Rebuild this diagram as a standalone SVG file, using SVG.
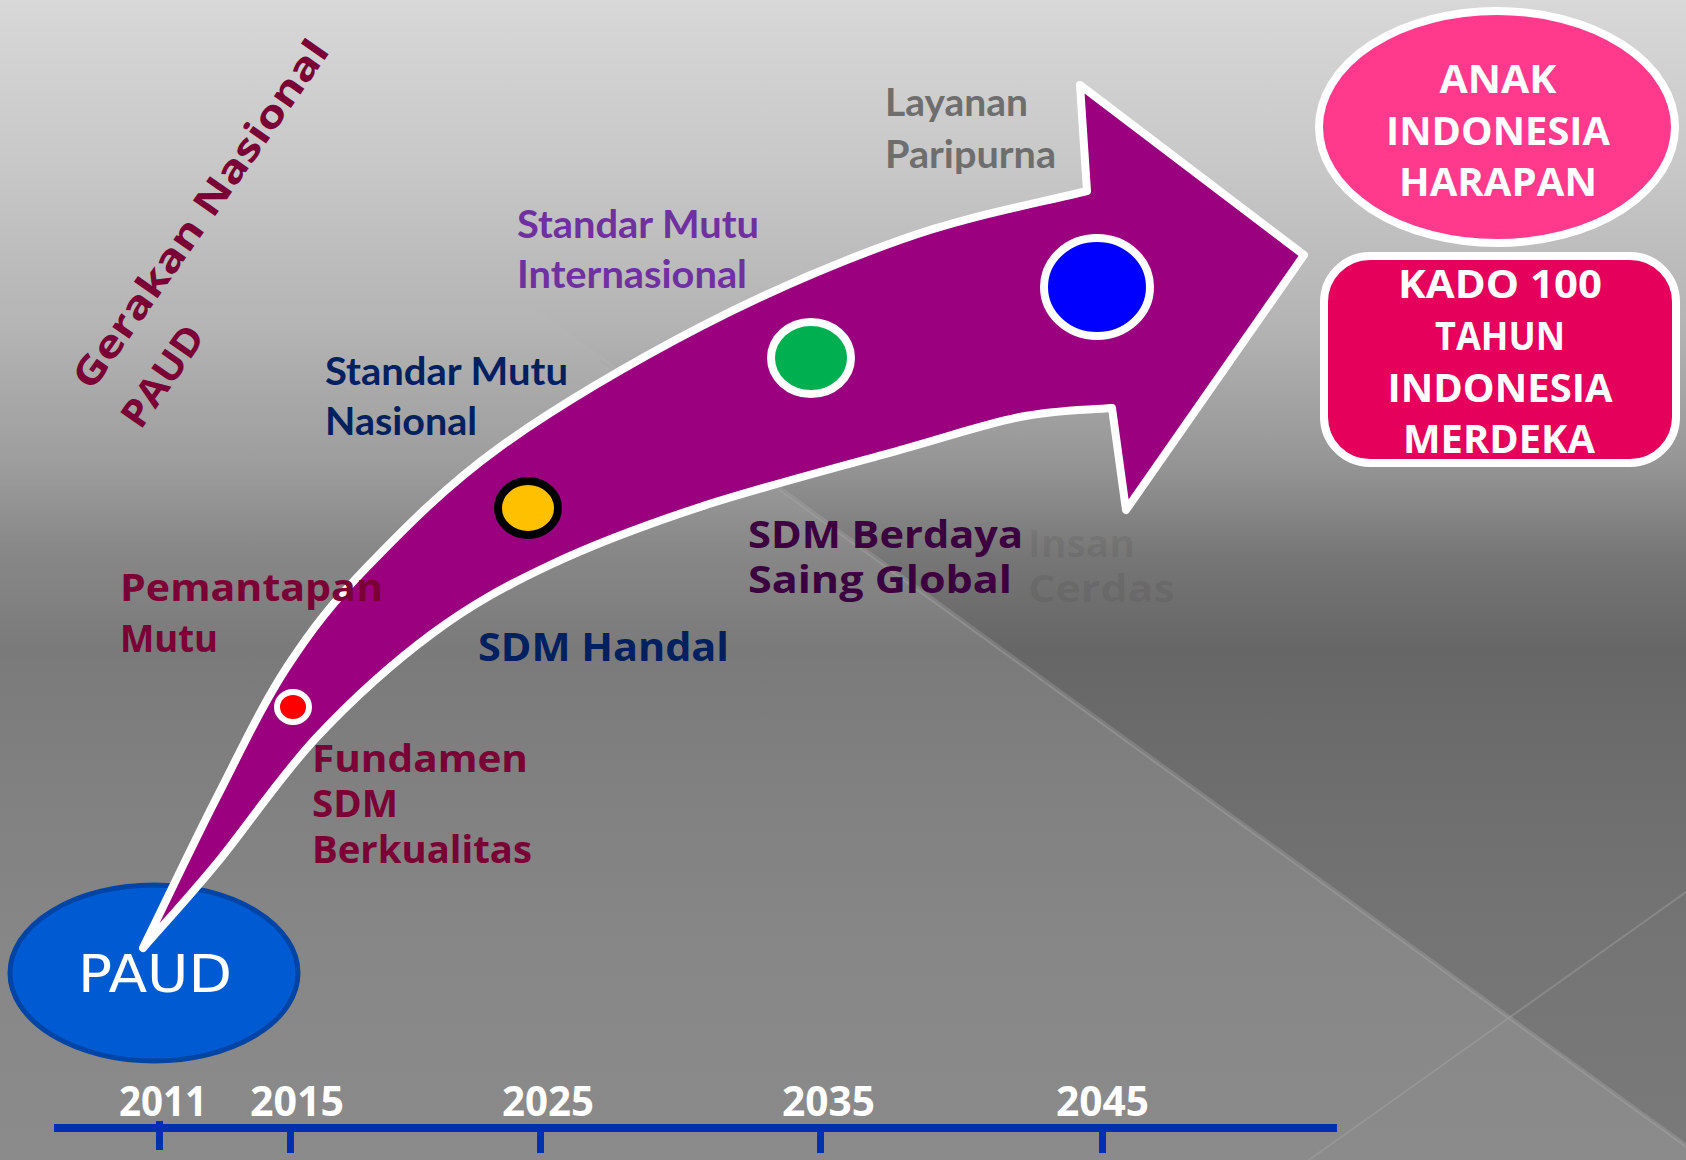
<svg xmlns="http://www.w3.org/2000/svg" width="1686" height="1160" viewBox="0 0 1686 1160">
<defs>
<linearGradient id="bg" x1="0" y1="0" x2="0" y2="1">
<stop offset="0" stop-color="#d8d8d8"/>
<stop offset="0.14" stop-color="#c8c8c8"/>
<stop offset="0.28" stop-color="#b4b4b4"/>
<stop offset="0.40" stop-color="#959595"/>
<stop offset="0.48" stop-color="#767676"/>
<stop offset="0.56" stop-color="#666666"/>
<stop offset="0.65" stop-color="#6c6c6c"/>
<stop offset="0.80" stop-color="#747474"/>
<stop offset="1" stop-color="#7a7a7a"/>
</linearGradient>
<linearGradient id="lift" x1="0" y1="0" x2="0" y2="1160" gradientUnits="userSpaceOnUse">
<stop offset="0.25" stop-color="#ffffff" stop-opacity="0"/>
<stop offset="0.5" stop-color="#ffffff" stop-opacity="0.13"/>
<stop offset="1" stop-color="#ffffff" stop-opacity="0.13"/>
</linearGradient>
</defs>
<style>
.cg{font-family:"Open Sans","DejaVu Sans",sans-serif;font-weight:bold;}
.cb{font-family:Lato,"Open Sans",sans-serif;font-weight:bold;font-size:39px;}
.maroon{fill:#7a0035;font-size:38px;}
.navy{fill:#002060;}
.purple{fill:#7030a0;}
.gray{fill:#6e6e6e;}
.dpurple{fill:#3c0040;font-size:38px;}
.faint{fill:#000000;fill-opacity:0.07;font-size:38px;}
.year{fill:#ffffff;font-size:42px;}
.wt{fill:#ffffff;font-size:40px;text-anchor:middle;}
.tick{fill:#0030b0;}
.dot{stroke-width:8;}
</style>
<g id="background">
<rect x="0" y="0" width="1686" height="1160" fill="url(#bg)"/>
<polygon points="0,0 110,0 1686,1143 1686,1160 0,1160" fill="url(#lift)"/>
<line x1="600" y1="360" x2="1686" y2="1147" stroke="#a8a8a8" stroke-opacity="0.4" stroke-width="2"/>
<line x1="1309" y1="1160" x2="1686" y2="892" stroke="#a8a8a8" stroke-opacity="0.4" stroke-width="2"/>
</g>
<g id="title">
<g transform="translate(92,392) rotate(-55)">
<text class="cg maroon" x="0" y="0" font-size="44" textLength="416" lengthAdjust="spacingAndGlyphs">Gerakan Nasional</text>
<text class="cg maroon" x="-4" y="62" font-size="44" textLength="115" lengthAdjust="spacingAndGlyphs">PAUD</text>
</g>
</g>
<g id="timeline">
<rect x="54" y="1124" width="1283" height="8" class="tick"/>
<rect x="156" y="1121" width="7" height="29" class="tick"/>
<rect x="287" y="1124" width="7" height="29" class="tick"/>
<rect x="537" y="1124" width="7" height="29" class="tick"/>
<rect x="817" y="1124" width="7" height="29" class="tick"/>
<rect x="1099" y="1124" width="7" height="29" class="tick"/>
<text class="cg year" x="119" y="1116" textLength="88" lengthAdjust="spacingAndGlyphs">2011</text>
<text class="cg year" x="250" y="1116" textLength="94" lengthAdjust="spacingAndGlyphs">2015</text>
<text class="cg year" x="502" y="1116" textLength="92" lengthAdjust="spacingAndGlyphs">2025</text>
<text class="cg year" x="782" y="1116" textLength="93" lengthAdjust="spacingAndGlyphs">2035</text>
<text class="cg year" x="1056" y="1116" textLength="93" lengthAdjust="spacingAndGlyphs">2045</text>
</g>
<g id="paud">
<ellipse cx="154" cy="973" rx="144" ry="88" fill="#005bd3" stroke="#0045a5" stroke-width="5"/>
<text x="78" y="992" font-family="'DejaVu Sans',sans-serif" font-size="51" fill="#ffffff" textLength="154" lengthAdjust="spacingAndGlyphs">PAUD</text>
</g>
<g id="connectors">
<path id="arrow" d="M143,948 C167.7,897.7 193,843.8 217,797 C241,750.2 262,705.3 287,667 C312,628.7 331.5,603.7 367,567 C402.5,530.3 444.5,487 500,447 C555.5,407 633.3,361.5 700,327 C766.7,292.5 835.5,263 900,240 C964.5,217 1024.7,206 1087,191 L1080,85 L1304,255 L1126,510 L1112,408 C1082,410.3 1055.5,409.8 1020,417 C984.5,424.2 953.3,435 900,450 C846.7,465 758.3,487.8 700,507 C641.7,526.2 594.5,544 550,565 C505.5,586 471.8,604.3 433,633 C394.2,661.7 353,698.7 317,737 C281,775.3 246,827.8 217,863 C188,898.2 167.7,919.7 143,948 Z" fill="#9b007f" stroke="#ffffff" stroke-width="8" stroke-linejoin="round"/>
</g>
<g id="milestones">
<ellipse id="dot2015" cx="293" cy="707" rx="16" ry="15" fill="#ff0000" stroke="#ffffff" stroke-width="6"/>
<ellipse id="dot2025" cx="528" cy="508" rx="30" ry="27" fill="#ffc000" stroke="#000000" class="dot"/>
<ellipse id="dot2035" cx="811" cy="358" rx="40" ry="36" fill="#00b050" stroke="#ffffff" class="dot"/>
<ellipse id="dot2045" cx="1097" cy="287" rx="53" ry="49" fill="#0000ff" stroke="#ffffff" class="dot"/>
</g>
<g id="labels">
<text class="cg maroon" x="120" y="601" textLength="263" lengthAdjust="spacingAndGlyphs">Pemantapan</text>
<text class="cg maroon" x="120" y="652" textLength="98" lengthAdjust="spacingAndGlyphs">Mutu</text>
<text class="cg maroon" x="312" y="772" textLength="216" lengthAdjust="spacingAndGlyphs">Fundamen</text>
<text class="cg maroon" x="312" y="817" textLength="86" lengthAdjust="spacingAndGlyphs">SDM</text>
<text class="cg maroon" x="312" y="863" textLength="220" lengthAdjust="spacingAndGlyphs">Berkualitas</text>
<text class="cg navy" x="478" y="661" font-size="40" fill="#00246b" textLength="251" lengthAdjust="spacingAndGlyphs">SDM Handal</text>
<text class="cb navy" x="325" y="385" textLength="243" lengthAdjust="spacingAndGlyphs">Standar Mutu</text>
<text class="cb navy" x="325" y="435" textLength="152" lengthAdjust="spacingAndGlyphs">Nasional</text>
<text class="cb purple" x="517" y="238" textLength="242" lengthAdjust="spacingAndGlyphs">Standar Mutu</text>
<text class="cb purple" x="517" y="288" textLength="230" lengthAdjust="spacingAndGlyphs">Internasional</text>
<text class="cb gray" x="885" y="116" textLength="143" lengthAdjust="spacingAndGlyphs">Layanan</text>
<text class="cb gray" x="885" y="168" textLength="171" lengthAdjust="spacingAndGlyphs">Paripurna</text>
<text class="cg dpurple" x="748" y="548" textLength="275" lengthAdjust="spacingAndGlyphs">SDM Berdaya</text>
<text class="cg dpurple" x="748" y="593" textLength="264" lengthAdjust="spacingAndGlyphs">Saing Global</text>
<text class="cg faint" x="1028" y="557" textLength="107" lengthAdjust="spacingAndGlyphs">Insan</text>
<text class="cg faint" x="1028" y="602" textLength="147" lengthAdjust="spacingAndGlyphs">Cerdas</text>
</g>
<g id="anak">
<ellipse cx="1497" cy="127" rx="178" ry="116" fill="#ff3a8c" stroke="#ffffff" stroke-width="8"/>
<text class="cg wt" x="1498" y="93" textLength="117" lengthAdjust="spacingAndGlyphs">ANAK</text>
<text class="cg wt" x="1498" y="145" textLength="224" lengthAdjust="spacingAndGlyphs">INDONESIA</text>
<text class="cg wt" x="1498" y="196" textLength="198" lengthAdjust="spacingAndGlyphs">HARAPAN</text>
</g>
<g id="kado">
<rect x="1324" y="256" width="352" height="207" rx="46" ry="46" fill="#e4005b" stroke="#ffffff" stroke-width="8"/>
<text class="cg wt" x="1500" y="298" textLength="204" lengthAdjust="spacingAndGlyphs">KADO 100</text>
<text class="cg wt" x="1500" y="350" textLength="130" lengthAdjust="spacingAndGlyphs">TAHUN</text>
<text class="cg wt" x="1500" y="402" textLength="225" lengthAdjust="spacingAndGlyphs">INDONESIA</text>
<text class="cg wt" x="1499" y="453" textLength="192" lengthAdjust="spacingAndGlyphs">MERDEKA</text>
</g>
</svg>
